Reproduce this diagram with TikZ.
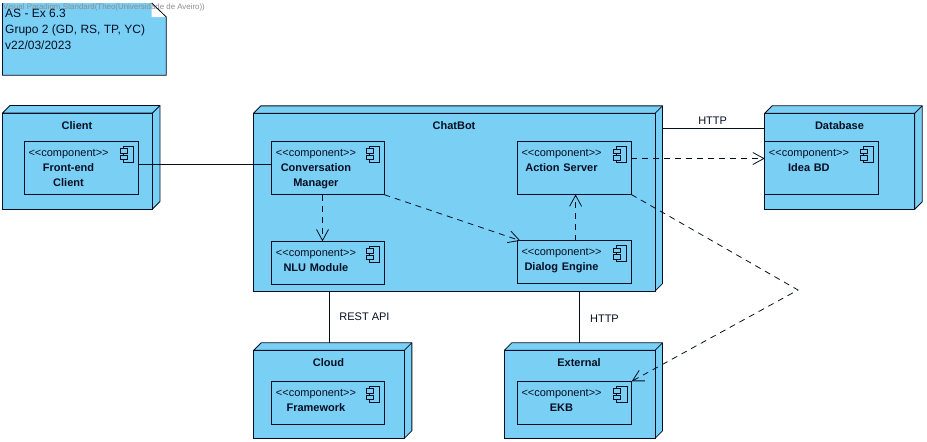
\documentclass[tikz,border=0pt]{standalone}
\usepackage{fontspec}
\setmainfont{Liberation Sans}
\usetikzlibrary{arrows.meta, positioning, calc}
\definecolor{nodeblue}{RGB}{122,207,245}
\definecolor{inkline}{RGB}{5,15,35}

\begin{document}
\begin{tikzpicture}[
  x=1pt, y=-1pt,
  inkbox/.style={rectangle, draw=inkline, line width=0.8pt, fill=nodeblue, inner sep=0pt, outer sep=0pt},
  device/.style={inkbox, append after command={\pgfextra{
    \draw[draw=inkline, line width=0.8pt, fill=nodeblue, line join=round]
      (\tikzlastnode.north west) -- ++(7.5,-7.5) -- ([shift={(7.5pt,7.5pt)}]\tikzlastnode.north east)
      -- ([shift={(7.5pt,7.5pt)}]\tikzlastnode.south east) -- (\tikzlastnode.south east)
      -- (\tikzlastnode.north east) -- cycle;
    \draw[draw=inkline, line width=0.8pt] (\tikzlastnode.north east) -- ++(7.5,-7.5);
  }}},
  title/.style={font=\fontsize{11}{13}\selectfont\bfseries, text=inkline, inner sep=0pt},
  comp/.style={inkbox, label={[comptext]north west:{<{}<component>{}>\\\textbf{#1}}},
    path picture={
    \draw[draw=inkline, line width=0.8pt, fill=nodeblue]
      ([shift={(-15pt,-5pt)}]path picture bounding box.north east) rectangle ([shift={(-4.5pt,-21pt)}]path picture bounding box.north east);
    \draw[draw=inkline, line width=0.8pt, fill=nodeblue]
      ([shift={(-18pt,-7.5pt)}]path picture bounding box.north east) rectangle ([shift={(-11pt,-12pt)}]path picture bounding box.north east);
    \draw[draw=inkline, line width=0.8pt, fill=nodeblue]
      ([shift={(-18pt,-14pt)}]path picture bounding box.north east) rectangle ([shift={(-11pt,-18.5pt)}]path picture bounding box.north east);
  }},
  comptext/.style={anchor=north west, label distance=0pt, inner sep=0pt, xshift=4pt, yshift=-7.5pt,
    text width=80pt, align=center, text=inkline, font=\fontsize{11}{15}\selectfont},
  link/.style={draw=inkline, line width=0.8pt},
  dep/.style={link, dashed, dash pattern=on 6pt off 5pt, -{Straight Barb[length=11pt,width=12pt,line width=0.8pt]}},
  linklabel/.style={font=\fontsize{11}{13}\selectfont, text=inkline, inner sep=0pt}
]
\useasboundingbox (0,0) rectangle (927,442);

% note
\fill[nodeblue] (2.5,3) -- (151.7,3) -- (166.3,17) -- (166.3,75.3) -- (2.5,75.3) -- cycle;
\fill[white] (151.7,3) -- (166.3,17) -- (151.7,17) -- cycle;
\node[font=\fontsize{7.9}{10}\selectfont, text=black!45, anchor=west, inner sep=0pt] (watermark) at (3,7) {Visual Paradigm Standard(Theo(Universidade de Aveiro))};
\draw[link] (151.7,3) -- (166.3,17) -- (166.3,75.3) -- (2.5,75.3) -- (2.5,3);
\node[anchor=north west, align=left, inner sep=0pt, text=inkline, font=\fontsize{12}{16}\selectfont] (notetext) at (5,9) {AS - Ex 6.3\\Grupo 2 (GD, RS, TP, YC)\\v22/03/2023};

% devices
\node[device, minimum width=150, minimum height=96] (client) at (77.5,161) {};
\node[device, minimum width=401.7, minimum height=177.7] (chatbot) at (454.2,202.2) {};
\node[device, minimum width=150, minimum height=96] (database) at (839.7,161.3) {};
\node[device, minimum width=150.7, minimum height=88] (cloud) at (329,394.3) {};
\node[device, minimum width=150.7, minimum height=88] (external) at (579.7,394.3) {};

\node[title] (clientname) at (77,125.5) {Client};
\node[title] (chatbotname) at (454,125.5) {ChatBot};
\node[title] (databasename) at (839.5,125.5) {Database};
\node[title] (cloudname) at (328.5,362.5) {Cloud};
\node[title] (externalname) at (579,362.5) {External};

% components
\node[comp={Front-end\\Client}, minimum width=114, minimum height=53.4] (frontend) at (81.3,168) {};
\node[comp={Conversation\\Manager}, minimum width=112.6, minimum height=53.4] (manager) at (328,168) {};
\node[comp={NLU Module}, minimum width=112.6, minimum height=43] (nlu) at (328,262.8) {};
\node[comp={Action Server}, minimum width=114, minimum height=53] (action) at (574.3,168) {};
\node[comp={Dialog Engine}, minimum width=114, minimum height=42.6] (dialog) at (574.3,262) {};
\node[comp={Idea BD}, minimum width=113.6, minimum height=53] (ideabd) at (821.5,168) {};
\node[comp={Framework}, minimum width=112.6, minimum height=43] (framework) at (328,402.8) {};
\node[comp={EKB}, minimum width=114.4, minimum height=43] (ekb) at (574.5,402.8) {};

% links
\coordinate (dbport) at ([yshift=33.3pt]database.west);
\draw[link] ([yshift=3.6pt]frontend.east) -- ([yshift=3.6pt]manager.west);
\draw[link] ([xshift=7.5pt]chatbot.east |- dbport) -- (dbport) node[linklabel, pos=0.49, above=3.5pt] (httpdb) {HTTP};
\draw[link] (chatbot.south -| cloud.north) -- ([yshift=7.5pt]cloud.north) node[linklabel, pos=0.5, right=10pt] (restapi) {REST API};
\draw[link] (chatbot.south -| external.north) -- ([yshift=7.5pt]external.north) node[linklabel, pos=0.5, right=10pt, yshift=-2pt] (httpext) {HTTP};

% dependencies
\coordinate (bend) at (798,290);
\draw[dep] ([yshift=9.5pt]action.east) -- ([yshift=9.5pt]ideabd.west);
\draw[dep] ([xshift=-5.5pt]manager.south) -- ([xshift=-5.5pt]nlu.north);
\draw[dep] (manager.south east) -- ([xshift=3pt]dialog.north west);
\draw[dep] ([xshift=1.3pt]dialog.north) -- ([xshift=1.3pt]action.south);
\draw[dep] (action.south east) -- (bend) -- (ekb.north east);
\end{tikzpicture}
\end{document}
